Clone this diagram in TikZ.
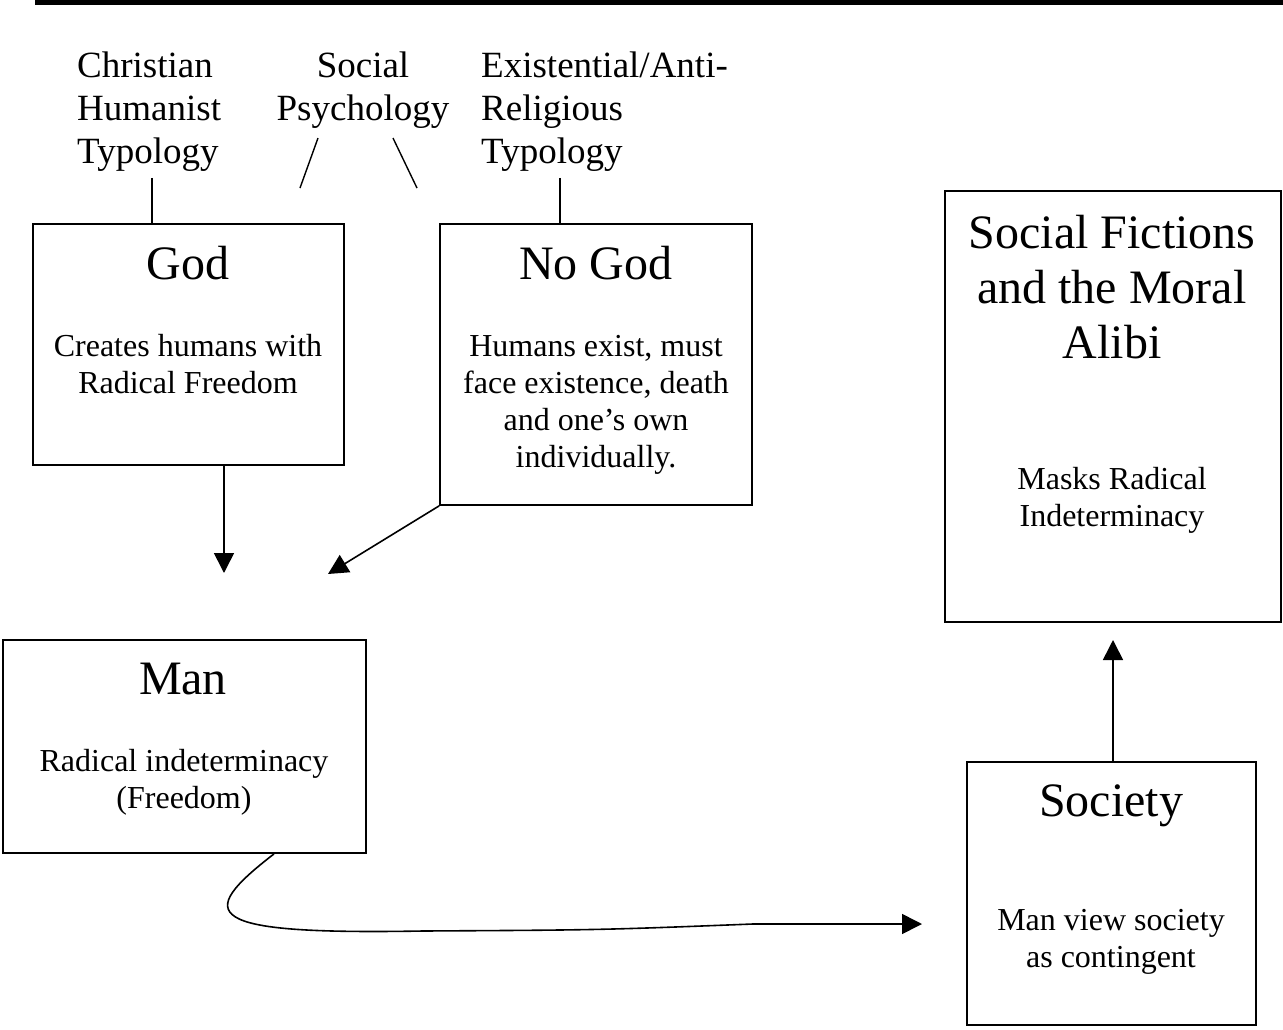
\documentclass[tikz,border=0pt]{standalone}
\usepackage{fontspec}
\setmainfont{Liberation Serif}
\usepackage{tikz}
\usetikzlibrary{arrows.meta}

\begin{document}
\begin{tikzpicture}[x=1pt,y=-1pt]
\tikzstyle{box}=[draw,line width=1.8pt,inner sep=0pt]
\tikzstyle{title}=[inner sep=0pt,align=center,font=\fontsize{48}{55}\selectfont]
\tikzstyle{body}=[inner sep=0pt,align=center,font=\fontsize{32}{37}\selectfont]
\tikzstyle{label}=[inner sep=0pt,font=\fontsize{37}{43}\selectfont]
\tikzstyle{arrow}=[line width=1.6pt,-{Triangle[length=20pt,width=20pt]}]
\useasboundingbox (0,0) rectangle (1283,1030);
\draw[line width=5pt] (35,3) -- (1283,3);
% boxes
\foreach \name/\point/\w/\h in {
	god/{188.5,344.5}/311/241,
	nogod/{596,364.5}/312/281,
	man/{184.5,746.5}/363/213,
	fictions/{1113,406.5}/336/431,
	society/{1111.5,893.5}/289/263}
	\node[box,minimum width=\w pt,minimum height=\h pt] (\name) at (\point) {};
% titles and texts
\node[title] (god-t) at (188,263) {God};
\node[body] (god-b) at (188,364.5) {Creates humans with\\Radical Freedom};
\node[title] (nogod-t) at (596,263) {No God};
\node[body] (nogod-b) at (596,405) {Humans exist, must\\face existence, death\\and one’s own\\individually.};
\node[title] (man-t) at (183,679) {Man};
\node[body] (man-b) at (184,782.5) {Radical indeterminacy\\(Freedom)};
\node[title] (fictions-t) at (1112,287) {Social Fictions\\and the Moral\\Alibi};
\node[body] (fictions-b) at (1112,500) {Masks Radical\\Indeterminacy};
\node[title] (society-t) at (1111,806) {Society};
\node[body] (society-b) at (1111,941.5) {Man view society\\as contingent};
% typologies
\node[label,align=left,anchor=west] (christian) at (77,112) {Christian\\Humanist\\Typology};
\node[label,align=center] (socpsy) at (363,90.5) {Social\\Psychology};
\node[label,align=left,anchor=west] (existential) at (481,112) {Existential/Anti-\\Religious\\Typology};
\coordinate (ch-end) at (152,178);
\coordinate (ex-end) at (560,178);
\draw[line width=1.4pt] (ch-end) -- (ch-end |- god.north);
\draw[line width=1.4pt] (ex-end) -- (ex-end |- nogod.north);
\draw[line width=1.4pt] ([shift={(-45,9)}]socpsy.south) -- ++(-18,50);
\draw[line width=1.4pt] ([shift={(30,9)}]socpsy.south) -- ++(24,50);
% arrows
\coordinate (man-in1) at (224,573);
\coordinate (man-in2) at (328,574);
\coordinate (soc-in) at (922,924);
\coordinate (fic-in) at (1113,640);
\draw[arrow] ([xshift=35.5pt]god.south) -- (man-in1);
\draw[arrow] (nogod.south west) -- (man-in2);
\draw[arrow] ([xshift=89.5pt]man.south) .. controls (195,915) and (200,935) .. (423,931) .. controls (600,930) .. (753,924) -- (soc-in);
\draw[arrow] ([xshift=1.5pt]society.north) -- (fic-in);
\end{tikzpicture}
\end{document}
